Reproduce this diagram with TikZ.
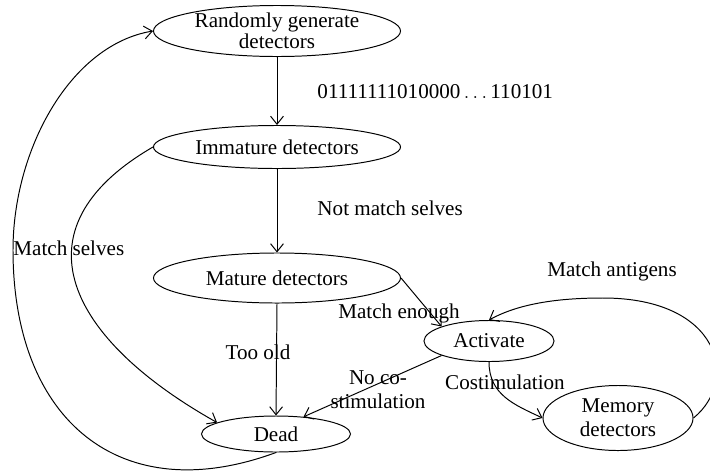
\documentclass[tikz,border=0pt]{standalone}
\usepackage{fontspec}
\setmainfont{Liberation Serif}
\usetikzlibrary{shapes,arrows.meta}

\tikzset{
  state/.style={ellipse, draw, inner sep=0pt, align=center, font=\fontsize{15}{17}\selectfont},
  lbl/.style={inner sep=0pt, align=center, font=\fontsize{15}{17}\selectfont},
  flow/.style={-{Straight Barb[length=2mm,width=3.2mm]}}
}

\begin{document}
\begin{tikzpicture}[x=0.025cm,y=-0.025cm,line width=0.7pt]
  \useasboundingbox (0,0) rectangle (710,475);
  \node[state, minimum width=6.175cm, minimum height=1.275cm] (rand) at (277,31) {Randomly generate\\[-2pt]detectors};
  \node[state, minimum width=6.175cm, minimum height=1.075cm] (immature) at (277,147) {Immature detectors};
  \node[state, minimum width=6.175cm, minimum height=1.25cm] (mature) at (277,278) {Mature detectors};
  \node[state, minimum width=3.725cm, minimum height=0.9cm] (dead) at (276,434) {Dead};
  \node[state, minimum width=3.25cm, minimum height=1.025cm] (activate) at (489,341) {Activate};
  \node[state, minimum width=3.75cm, minimum height=1.625cm] (memory) at (618,418) {Memory\\detectors};

  \node[lbl, anchor=west] (bits) at (317,92) {01111111010000$\,\ldots\,$110101};
  \node[lbl, anchor=west] (notmatch) at (317,208) {Not match selves};
  \node[lbl, anchor=west] (matchselves) at (13,248) {Match selves};
  \node[lbl] (antigens) at (612,271) {Match antigens};
  \node[lbl] (enough) at (399,313) {Match enough};
  \node[lbl] (tooold) at (258,352) {Too old};
  \node[lbl] (nocostim) at (378,390) {No co-\\stimulation};
  \node[lbl] (costim) at (505,382) {Costimulation};

  \coordinate (outerleft) at (13,250);
  \coordinate (looptop) at (603,298);

  \draw[flow] (rand) -- (immature);
  \draw[flow] (immature) -- (mature);
  \draw[flow] (mature.south) -- (dead.north);
  \draw[flow] (mature.east) -- (activate.163);
  \draw[flow] (activate.197) -- (dead.32);
  \draw[flow] (activate.south) .. controls (489,395) and (515,405) .. (memory.west);
  \draw[flow] (memory.east) .. controls (740,380) and (720,298) .. (looptop)
                            .. controls (560,298) and (520,303) .. (activate.north);
  \draw[flow] (immature.west) .. controls (10,230) and (70,340) .. (dead.169);
  \draw[flow] (dead.south) .. controls (120,510) and (13,420) .. (outerleft)
                           .. controls (13,150) and (70,45) .. (rand.west);
\end{tikzpicture}
\end{document}
